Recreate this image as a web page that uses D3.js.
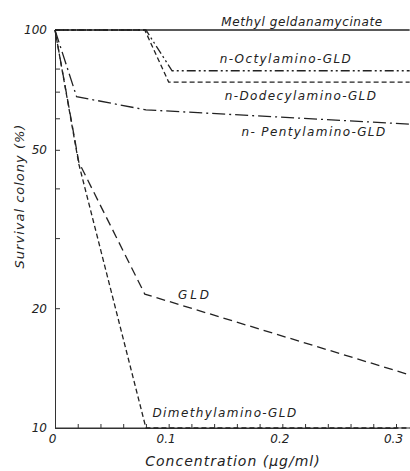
<!DOCTYPE html>
<html>
<head>
<meta charset="utf-8">
<script src="https://cdn.jsdelivr.net/npm/d3@7"></script>
<style>
  body { margin: 0; background: #fff; }
  svg { display: block; }
  text { font-family: "DejaVu Sans", sans-serif; font-style: italic; fill: #222; }
</style>
</head>
<body>
<div id="chart"></div>
<script>
const FRAME_WIDTH = 410;
const FRAME_HEIGHT = 471;

// values: concentration (ug/ml) and survival (%)
const methylX = [0, 0.312];
const methylY = [100, 100];
const octylX = [0, 0.08, 0.103, 0.312];
const octylY = [100, 100, 79, 79];
const dodecylX = [0, 0.079, 0.1, 0.312];
const dodecylY = [100, 100, 74, 74];
const pentylX = [0, 0.019, 0.08, 0.312];
const pentylY = [100, 68, 63, 58];
const gldX = [0, 0.021, 0.079, 0.312];
const gldY = [100, 46.5, 21.7, 13.6];
const dimethylX = [0, 0.021, 0.08, 0.312];
const dimethylY = [100, 46, 10, 10];

const X_TICKS = d3.range(0, 0.3001, 0.02);
const X_LABELS = [0, 0.1, 0.2, 0.3];
const Y_TICKS = [10, 20, 30, 40, 50, 60, 70, 80, 100];
const Y_LABELS = [10, 20, 50, 100];

const SVG = d3.select("#chart")
  .append("svg")
    .attr("width", FRAME_WIDTH)
    .attr("height", FRAME_HEIGHT);

const X_SCALE = d3.scaleLinear().domain([0, 0.3]).range([55, 396]);
const Y_SCALE = d3.scaleLog().domain([10, 100]).range([428, 30]);

// series with their dash patterns
const SERIES = [
  {x: methylX, y: methylY, dash: null, label: "Methyl geldanamycinate", lx: 302, ly: 26, ls: 0.6},
  {x: octylX, y: octylY, dash: "9,3,2,3,2,3", label: "n-Octylamino-GLD", lx: 286, ly: 63, ls: 1.4},
  {x: dodecylX, y: dodecylY, dash: "5,3", label: "n-Dodecylamino-GLD", lx: 301, ly: 100, ls: 1.4},
  {x: pentylX, y: pentylY, dash: "13,4,2,4", label: "n- Pentylamino-GLD", lx: 314, ly: 136, ls: 1.4},
  {x: gldX, y: gldY, dash: "9,5", label: "GLD", lx: 195, ly: 299, ls: 3},
  {x: dimethylX, y: dimethylY, dash: "5,3", label: "Dimethylamino-GLD", lx: 225, ly: 417, ls: 1.4}
];

const line = d3.line()
  .x(d => X_SCALE(d[0]))
  .y(d => Y_SCALE(d[1]));

// y axis, ticks point inward
const yAxis = SVG.append("g")
  .attr("transform", "translate(" + X_SCALE(0) + ",0)")
  .call(d3.axisLeft(Y_SCALE)
    .tickValues(Y_TICKS)
    .tickSize(-5)
    .tickSizeOuter(0)
    .tickPadding(8)
    .tickFormat(d => Y_LABELS.includes(d) ? d : ""));
yAxis.selectAll("text").attr("font-size", "12px").attr("font-family", null);

// x axis
const xAxis = SVG.append("g")
  .attr("transform", "translate(0," + Y_SCALE(10) + ")")
  .call(d3.axisBottom(X_SCALE)
    .tickValues(X_TICKS)
    .tickSize(-4)
    .tickSizeOuter(0)
    .tickPadding(6)
    .tickFormat(d => {
      const r = Math.round(d * 100) / 100;
      return X_LABELS.includes(r) ? (r === 0 ? "0" : r.toFixed(1)) : "";
    }));
xAxis.selectAll("text").attr("font-size", "12px").attr("dx", "-3px").attr("font-family", null);

SVG.selectAll(".domain, .tick line").attr("stroke", "#333").attr("stroke-width", 1);
SVG.selectAll(".tick text").attr("fill", "#222");

// extend x axis line to the right edge
SVG.append("line")
  .attr("x1", X_SCALE(0)).attr("x2", FRAME_WIDTH)
  .attr("y1", Y_SCALE(10)).attr("y2", Y_SCALE(10))
  .attr("stroke", "#333");

// lines
SVG.selectAll(".series")
  .data(SERIES)
  .enter()
  .append("path")
    .attr("class", "series")
    .attr("d", s => line(s.x.map((v, i) => [v, s.y[i]])))
    .attr("fill", "none")
    .attr("stroke", "#222")
    .attr("stroke-width", s => s.dash ? 1.3 : 1.5)
    .attr("stroke-dasharray", s => s.dash);

// series labels
SVG.selectAll(".label")
  .data(SERIES)
  .enter()
  .append("text")
    .attr("class", "label")
    .attr("x", s => s.lx)
    .attr("y", s => s.ly)
    .attr("text-anchor", "middle")
    .attr("font-size", "12px")
    .attr("letter-spacing", s => s.ls + "px")
    .text(s => s.label);

// axis titles
SVG.append("text")
  .attr("transform", "translate(24,196) rotate(-90)")
  .attr("text-anchor", "middle")
  .attr("font-size", "13px")
  .attr("letter-spacing", "1px")
  .text("Survival colony (%)");

SVG.append("text")
  .attr("x", 233)
  .attr("y", 466)
  .attr("text-anchor", "middle")
  .attr("font-size", "14px")
  .attr("letter-spacing", "1px")
  .text("Concentration (µg/ml)");
</script>
</body>
</html>
